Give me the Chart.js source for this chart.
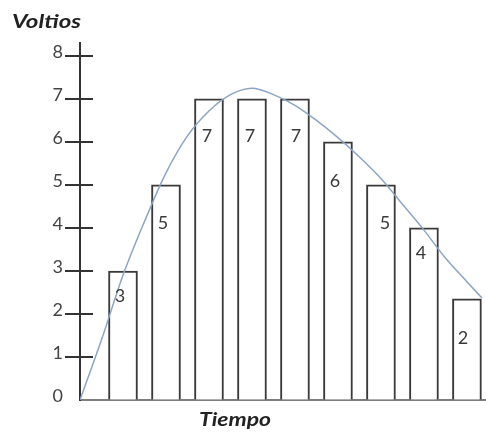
<!DOCTYPE html>
<html>
<head>
<meta charset="utf-8">
<script src="https://cdn.jsdelivr.net/npm/chart.js@4/dist/chart.umd.min.js"></script>
<style>
    html, body { margin: 0; padding: 0; background: #fff; }
    #wrap { width: 486px; height: 433px; }
</style>
</head>
<body>
<div id="wrap"><canvas id="voltChart"></canvas></div>
<script>
// posiciones de las barras (eje de tiempo) y su altura en voltios
const barX = [1, 2, 3, 4, 5, 6, 7, 8, 9];
const barVolts = [3, 5, 7, 7, 7, 6, 5, 4, 2.35];
const barText = ['3', '5', '7', '7', '7', '6', '5', '4', '2'];

// curva continua
const curveX = [0, 0.5, 1, 1.5, 2, 2.5, 3, 3.5, 4, 4.5, 5, 5.5, 6, 6.5, 7, 7.5, 8, 8.5, 9, 9.35];
const curveVolts = [0, 1.4, 2.9, 4.15, 5.28, 6.14, 6.72, 7.1, 7.25, 7.1, 6.85, 6.5, 6.1, 5.65, 5.15, 4.55, 3.95, 3.3, 2.75, 2.37];

const yTicks = [0, 1, 2, 3, 4, 5, 6, 7, 8];

const FONT = "Lato, 'Open Sans', sans-serif";

// desplazamiento de los números dentro de cada barra (px)
const labelDx = [-3, -3, -2, -2, 1, -3, 4, -3, -4];
const labelDy = [25, 38, 37, 37, 37, 39, 38, 25, 39];

// marcas del eje Y que cruzan la línea del eje
const tickMarks = {
    id: 'tickMarks',
    afterDraw(chart) {
        const ctx = chart.ctx;
        const y = chart.scales.y;
        const x0 = chart.chartArea.left;
        ctx.save();
        ctx.strokeStyle = '#333';
        ctx.lineWidth = 2;
        yTicks.forEach(function (v) {
            if (v === 0) return;
            const py = Math.round(y.getPixelForValue(v));
            ctx.beginPath();
            ctx.moveTo(x0 - 15, py);
            ctx.lineTo(x0 + 13, py);
            ctx.stroke();
        });
        ctx.restore();
    }
};

// texto estirado al ancho que tiene en la imagen
function stretchText(ctx, text, x, y, width) {
    const w = ctx.measureText(text).width;
    ctx.save();
    ctx.translate(x, y);
    ctx.scale(width / w, 1);
    ctx.fillText(text, 0, 0);
    ctx.restore();
}

// números dentro de las barras y títulos de los ejes
const barLabels = {
    id: 'barLabels',
    afterDatasetsDraw(chart) {
        const ctx = chart.ctx;
        const meta = chart.getDatasetMeta(1);
        ctx.save();
        ctx.fillStyle = '#3a3a3a';
        ctx.font = "18px " + FONT;
        ctx.textAlign = 'center';
        ctx.textBaseline = 'middle';
        meta.data.forEach(function (bar, i) {
            ctx.fillText(barText[i], bar.x + labelDx[i], bar.y + labelDy[i]);
        });
        ctx.textAlign = 'left';
        ctx.textBaseline = 'alphabetic';
        ctx.fillStyle = '#222';
        ctx.font = "italic bold 19px " + FONT;
        stretchText(ctx, 'Voltios', 12, 28, 69);
        ctx.font = "italic bold 18px " + FONT;
        stretchText(ctx, 'Tiempo', 199, 426, 72);
        ctx.restore();
    }
};

new Chart(document.getElementById('voltChart').getContext('2d'), {
    type: 'bar',
    data: {
        datasets: [
            {
                type: 'line',
                order: 0,
                data: curveX.map(function (x, i) { return {x: x, y: curveVolts[i]}; }),
                borderColor: '#8ba5c5',
                borderWidth: 1.5,
                pointRadius: 0,
                fill: false,
                tension: 0.4,
                cubicInterpolationMode: 'monotone'
            },
            {
                type: 'bar',
                order: 1,
                data: barX.map(function (x, i) { return {x: x, y: barVolts[i]}; }),
                backgroundColor: '#ffffff',
                borderColor: '#3a3a3a',
                borderWidth: 2,
                barThickness: 29
            }
        ]
    },
    options: {
        responsive: true,
        maintainAspectRatio: false,
        animation: false,
        layout: {padding: {top: 43, right: 1, bottom: 33, left: 0}},
        plugins: {
            legend: {display: false},
            tooltip: {enabled: false}
        },
        scales: {
            x: {
                type: 'linear',
                min: 0,
                max: 9.42,
                offset: false,
                grid: {display: false, drawTicks: false},
                border: {display: true, color: '#7d7d7d', width: 2},
                ticks: {display: false}
            },
            y: {
                min: 0,
                max: 8.3,
                afterBuildTicks: function (scale) {
                    scale.ticks = yTicks.map(function (v) { return {value: v}; });
                },
                afterFit: function (scale) {
                    scale.width = 80;
                },
                grid: {
                    drawOnChartArea: false,
                    drawTicks: true,
                    tickLength: 15,
                    color: 'rgba(0,0,0,0)'
                },
                border: {display: true, color: '#333', width: 2},
                ticks: {
                    padding: 2,
                    labelOffset: -4,
                    color: '#444',
                    font: {family: FONT, size: 18}
                }
            }
        }
    },
    plugins: [tickMarks, barLabels]
});
</script>
</body>
</html>
